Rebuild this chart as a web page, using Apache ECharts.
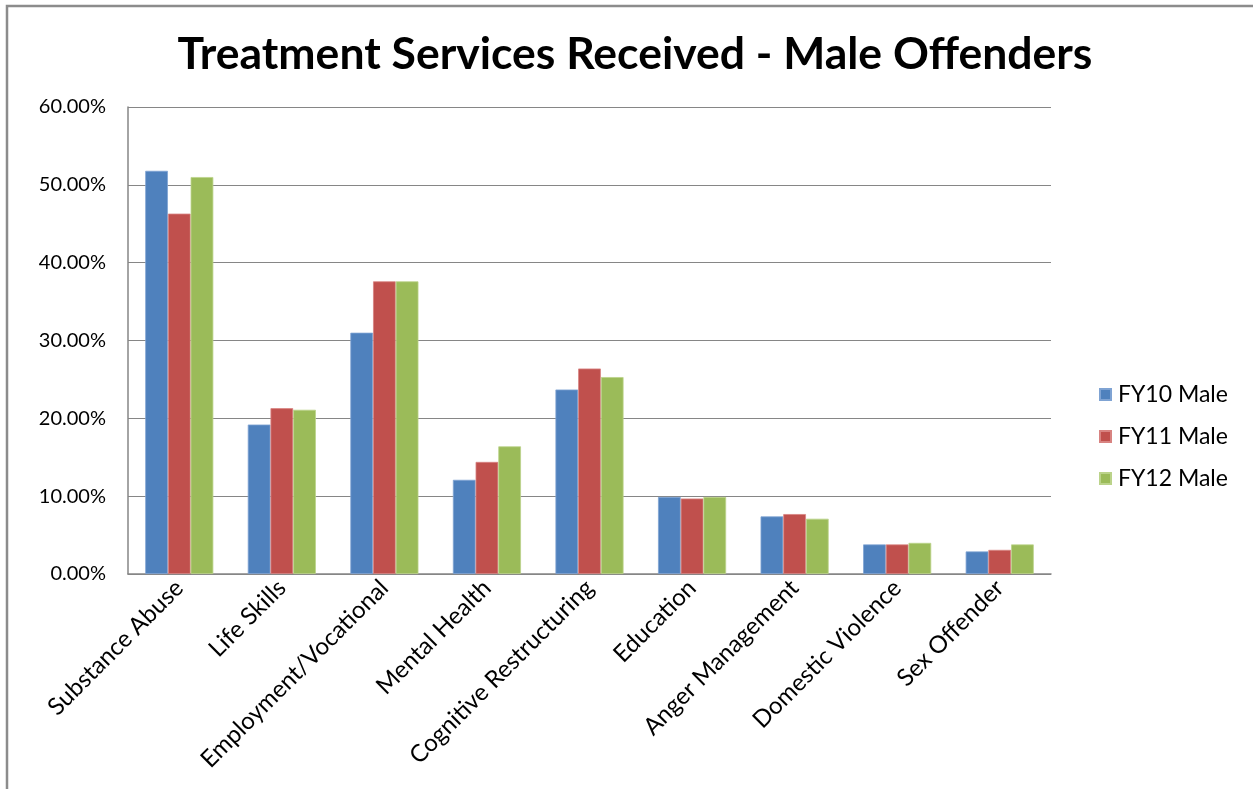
<!DOCTYPE html>
<html>
<head>
<meta charset="utf-8">
<title>Treatment Services Received - Male Offenders</title>
<script src="https://cdn.jsdelivr.net/npm/echarts@6/dist/echarts.min.js"></script>
<style>
  html, body { margin: 0; padding: 0; background: #ffffff; }
  #chart { width: 1253px; height: 789px; }
</style>
</head>
<body>
<div id="chart"></div>
<script>
// Service categories along the x axis
const categories = [
  'Substance Abuse', 'Life Skills', 'Employment/Vocational', 'Mental Health',
  'Cognitive Restructuring', 'Education', 'Anger Management',
  'Domestic Violence', 'Sex Offender'
];

// Share of male offenders receiving each service (%)
const fy10 = [51.8, 19.2, 31.0, 12.1, 23.7, 9.9, 7.4, 3.8, 2.9];
const fy11 = [46.3, 21.3, 37.6, 14.4, 26.4, 9.7, 7.7, 3.8, 3.1];
const fy12 = [51.0, 21.1, 37.6, 16.4, 25.3, 9.9, 7.1, 4.0, 3.8];

const seriesNames = ['FY10 Male', 'FY11 Male', 'FY12 Male'];
const seriesData = [fy10, fy11, fy12];
const colors = ['#4F81BD', '#C0504D', '#9BBB59'];
const borderColors = ['#7FA3D3', '#D88381', '#BBD38A'];

const font = 'Lato, "Open Sans", sans-serif';

const chart = echarts.init(document.getElementById('chart'), null, { renderer: 'canvas' });

chart.setOption({
  backgroundColor: '#ffffff',
  animation: false,
  title: {
    text: 'Treatment Services Received - Male Offenders',
    left: 630,
    textAlign: 'center',
    top: 27,
    textStyle: { fontFamily: font, fontWeight: 'bold', fontSize: 44.5, color: '#000000' }
  },
  legend: {
    orient: 'vertical',
    left: 1094,
    top: 378,
    itemWidth: 11,
    itemHeight: 11,
    itemGap: 19,
    icon: 'rect',
    data: seriesNames,
    textStyle: { fontFamily: font, fontSize: 23, color: '#000000', padding: [0, 0, 0, 2] }
  },
  grid: { left: 128, right: 202, top: 107, bottom: 215, containLabel: false },
  xAxis: {
    type: 'category',
    data: categories,
    axisLine: { show: true, lineStyle: { color: '#868686', width: 1.5 } },
    axisTick: { show: false },
    axisLabel: {
      rotate: 45,
      interval: 0,
      margin: 10,
      fontFamily: font,
      fontSize: 24,
      color: '#000000'
    }
  },
  yAxis: {
    type: 'value',
    min: 0,
    max: 60,
    interval: 10,
    axisLine: { show: true, lineStyle: { color: '#868686', width: 1.5 } },
    axisTick: { show: false },
    splitLine: { show: true, lineStyle: { color: '#868686', width: 1.2 } },
    axisLabel: {
      margin: 22,
      fontFamily: font,
      fontSize: 20,
      color: '#000000',
      formatter: v => v.toFixed(2) + '%'
    }
  },
  series: seriesNames.map((name, i) => ({
    name: name,
    type: 'bar',
    data: seriesData[i],
    barGap: '0%',
    barCategoryGap: '33.6%',
    itemStyle: { color: colors[i], borderColor: borderColors[i], borderWidth: 0.8 }
  })),
  graphic: [
    {
      type: 'polyline',
      shape: { points: [[7, 800], [7, 6], [1260, 6]] },
      style: { stroke: '#8C8C8C', lineWidth: 2.5, fill: null },
      silent: true
    }
  ]
});
</script>
</body>
</html>
